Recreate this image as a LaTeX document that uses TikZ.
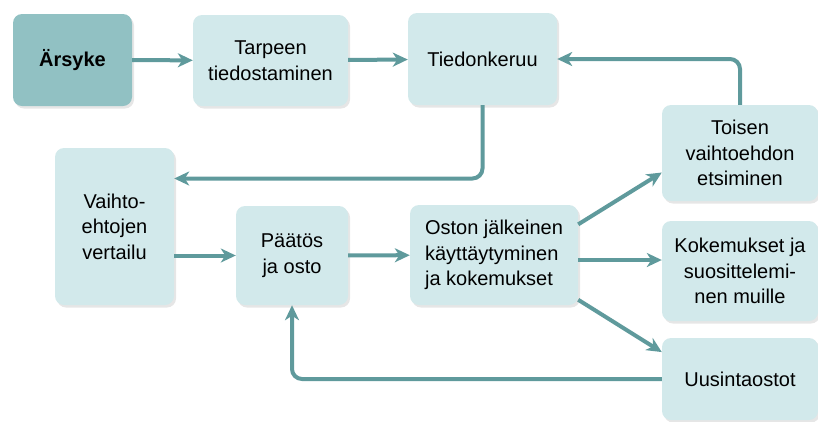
\documentclass[tikz,border=0pt]{standalone}
\usepackage{fontspec}
\setmainfont{Liberation Sans}
\usetikzlibrary{arrows.meta,shadows}
\definecolor{boxfill}{HTML}{D2E9EB}
\definecolor{startfill}{HTML}{91C1C3}
\definecolor{arrowcol}{HTML}{5F9A9C}
\tikzset{
  stage/.style={rectangle, rounded corners=9pt, fill=boxfill, align=center,
    font=\fontsize{20}{25.5}\selectfont, inner sep=2pt,
    drop shadow={shadow xshift=2pt, shadow yshift=-2.5pt, opacity=0.2, fill=gray}},
  flow/.style={arrowcol, line width=4pt, rounded corners=10pt,
    -{Stealth[length=15pt, width=14pt, inset=4.5pt]}}
}
\begin{document}
\begin{tikzpicture}[x=1pt, y=-1pt]
  \useasboundingbox (0,0) rectangle (818,421);
  % stages
  \node[stage, fill=startfill, font=\fontsize{20}{25.5}\selectfont\bfseries,
        minimum width=119pt, minimum height=92pt] (arsyke) at (72.5,60) {Ärsyke};
  \node[stage, minimum width=155pt, minimum height=91pt] (tarve) at (270.5,60.5) {Tarpeen\\tiedostaminen};
  \node[stage, minimum width=149pt, minimum height=92pt] (tieto) at (482.5,59) {Tiedonkeruu};
  \node[stage, minimum width=156pt, minimum height=96pt] (toinen) at (740,153) {Toisen\\vaihtoehdon\\etsiminen};
  \node[stage, minimum width=119pt, minimum height=157pt] (vertailu) at (114.5,226.5) {Vaihto-\\ehtojen\\vertailu};
  \node[stage, minimum width=112pt, minimum height=99pt] (paatos) at (292,255.5) {Päätös\\ja osto};
  \node[stage, align=left, minimum width=168pt, minimum height=100pt] (jalkeen) at (494,255) {Oston jälkeinen\\käyttäytyminen\\ja kokemukset};
  \node[stage, minimum width=156pt, minimum height=100pt] (kokem) at (740,271) {Kokemukset ja\\suosittelemi-\\nen muille};
  \node[stage, minimum width=156pt, minimum height=82pt] (uusinta) at (740,379) {Uusintaostot};
  % connectors
  \draw[flow] (arsyke) -- (tarve);
  \draw[flow] (tarve) -- (tieto);
  \draw[flow] (toinen.north) |- (tieto.east);
  \draw[flow] (tieto.south) |- ([yshift=48pt]vertailu.east);
  \draw[flow] (paatos.west -| vertailu.east) -- (paatos.west);
  \draw[flow] (paatos) -- (jalkeen);
  \draw[flow] (jalkeen.20) -- (toinen.194);
  \draw[flow] ([yshift=-5pt]jalkeen.east) -- ([yshift=-5pt]jalkeen.east -| kokem.west);
  \draw[flow] (jalkeen.-28) -- (uusinta.161);
  \draw[flow] (uusinta.west) -| (paatos.south);
\end{tikzpicture}
\end{document}
